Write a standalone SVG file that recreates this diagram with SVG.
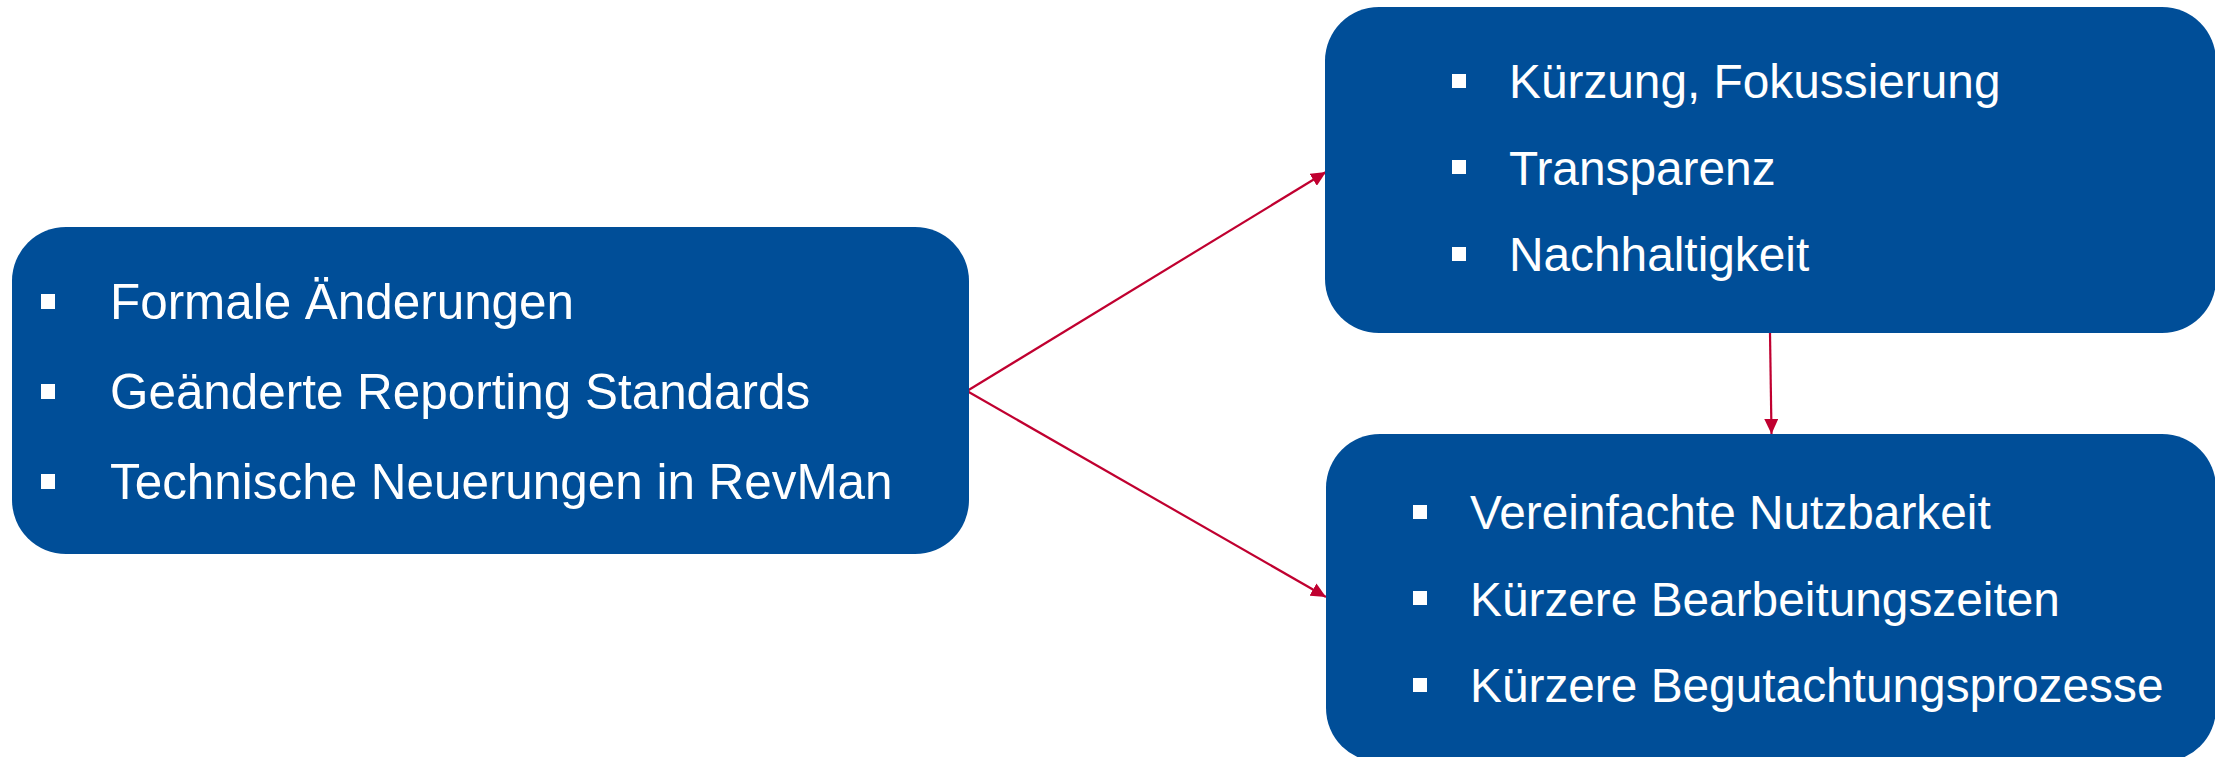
<svg xmlns="http://www.w3.org/2000/svg" width="2215" height="757" viewBox="0 0 2215 757">
<defs>
<style>
.box{fill:#004E98;}
.t{font-family:"Liberation Sans",Arial,sans-serif;font-size:47.8px;fill:#FFFFFF;}
.tl{font-size:49.4px;}
.b{fill:#FFFFFF;}
.c{stroke:#C00030;stroke-width:2.2;fill:none;}
</style>
<marker id="ah" markerUnits="userSpaceOnUse" markerWidth="16" markerHeight="14" refX="15" refY="7" orient="auto">
<path d="M0,0 L15,7 L0,14 Z" fill="#C00030"/>
</marker>
</defs>
<rect width="2215" height="757" fill="#FFFFFF"/>
<g id="connectors">
<line class="c" x1="967" y1="391" x2="1326" y2="172" marker-end="url(#ah)"/>
<line class="c" x1="967" y1="391" x2="1326" y2="597" marker-end="url(#ah)"/>
<line class="c" x1="1770" y1="333" x2="1771.5" y2="434" marker-end="url(#ah)"/>
</g>
<g id="node-left">
<rect class="box" x="12" y="227" width="957" height="327" rx="54" ry="54"/>
<rect class="b" x="41" y="294" width="14" height="15"/>
<text class="t tl" x="110" y="319">Formale Änderungen</text>
<rect class="b" x="41" y="384" width="14" height="15"/>
<text class="t tl" x="110" y="409">Geänderte Reporting Standards</text>
<rect class="b" x="41" y="474" width="14" height="15"/>
<text class="t tl" x="110" y="499">Technische Neuerungen in RevMan</text>
</g>
<g id="node-top-right">
<rect class="box" x="1325" y="7" width="891" height="326" rx="54" ry="54"/>
<rect class="b" x="1452" y="74" width="14" height="14"/>
<text class="t" x="1509" y="98">Kürzung, Fokussierung</text>
<rect class="b" x="1452" y="160" width="14" height="14"/>
<text class="t" x="1509" y="184.5">Transparenz</text>
<rect class="b" x="1452" y="247" width="14" height="14"/>
<text class="t" x="1509" y="271">Nachhaltigkeit</text>
</g>
<g id="node-bottom-right">
<rect class="box" x="1326" y="434" width="890" height="328" rx="54" ry="54"/>
<rect class="b" x="1413" y="505" width="14" height="14"/>
<text class="t" x="1470" y="529">Vereinfachte Nutzbarkeit</text>
<rect class="b" x="1413" y="591" width="14" height="14"/>
<text class="t" x="1470" y="615.5">Kürzere Bearbeitungszeiten</text>
<rect class="b" x="1413" y="678" width="14" height="14"/>
<text class="t" x="1470" y="702">Kürzere Begutachtungsprozesse</text>
</g>
</svg>
